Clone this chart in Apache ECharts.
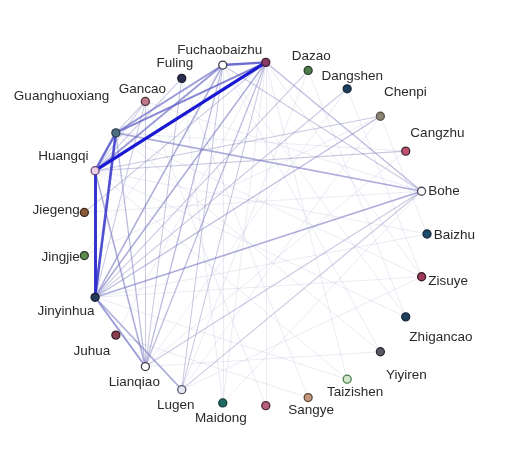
<!DOCTYPE html>
<html>
<head>
<meta charset="utf-8">
<script src="https://cdn.jsdelivr.net/npm/echarts@6/dist/echarts.min.js"></script>
<style>
  html, body { margin: 0; padding: 0; background: #fff; }
  #main { width: 507px; height: 455px; }
</style>
</head>
<body>
<div id="main"></div>
<script>
// herbs, in the order they sit round the circle (counter-clockwise from 3 o'clock)
var herbs = ['Baizhu','Bohe','Cangzhu','Chenpi','Dangshen','Dazao','Fangfeng','Fuchaobaizhu',
        'Fuling','Gancao','Guanghuoxiang','Huangqi','Jiegeng','Jingjie','Jinyinhua','Juhua',
        'Lianqiao','Lugen','Maidong','Niubangzi','Sangye','Taizishen','Yiyiren','Zhigancao','Zisuye'];

// co-occurrence links
var linkSource = ['Fangfeng','Huangqi','Guanghuoxiang','Guanghuoxiang','Fangfeng','Guanghuoxiang','Guanghuoxiang',
        'Huangqi','Jinyinhua','Jinyinhua','Guanghuoxiang','Jinyinhua','Jinyinhua','Jinyinhua','Lianqiao',
        'Lianqiao','Lianqiao','Lianqiao','Jinyinhua','Fangfeng','Fuchaobaizhu','Huangqi','Huangqi',
        'Lianqiao','Lugen','Jinyinhua','Jinyinhua','Lugen','Lugen','Lianqiao','Lianqiao','Huangqi',
        'Guanghuoxiang','Huangqi','Jinyinhua','Jiegeng','Jingjie',
        'Fangfeng','Fangfeng','Fuchaobaizhu','Huangqi','Guanghuoxiang','Huangqi','Jinyinhua','Jinyinhua',
        'Dangshen','Gancao','Juhua','Chenpi','Bohe','Dazao','Fuling','Cangzhu','Fangfeng','Fuchaobaizhu',
        'Guanghuoxiang','Huangqi','Jiegeng','Jingjie','Juhua','Dazao','Dangshen','Fuling','Gancao','Chenpi',
        'Lugen','Lianqiao','Jinyinhua','Fangfeng','Guanghuoxiang','Fuchaobaizhu'];
var linkTarget = ['Huangqi','Jinyinhua','Jinyinhua','Huangqi','Fuchaobaizhu','Fangfeng','Fuchaobaizhu',
        'Fuchaobaizhu','Lianqiao','Lugen','Bohe','Bohe','Fuchaobaizhu','Fangfeng','Huangqi',
        'Guanghuoxiang','Fuchaobaizhu','Fangfeng','Chenpi','Bohe','Bohe','Chenpi','Cangzhu',
        'Bohe','Bohe','Dazao','Dangshen','Fangfeng','Fuchaobaizhu','Gancao','Fuling','Gancao',
        'Gancao','Fuling','Gancao','Fangfeng','Fuchaobaizhu',
        'Zisuye','Taizishen','Yiyiren','Zhigancao','Zisuye','Baizhu','Zisuye','Baizhu',
        'Lianqiao','Niubangzi','Sangye','Lugen','Maidong','Lugen','Maidong','Lianqiao','Niubangzi','Maidong',
        'Yiyiren','Taizishen','Bohe','Chenpi','Fangfeng','Zhigancao','Zisuye','Sangye','Bohe','Baizhu',
        'Zisuye','Yiyiren','Taizishen','Maidong','Cangzhu','Zhigancao'];
var linkWeight = [10,9,8,7,7,6,5,
        5,5,4,4,4,4,4,4,
        3,3,3,3,3,2,2,2,
        2,2,2,2,2,2,2,2,2,
        2,2,2,2,1,
        1,1,1,1,1,1,1,1,
        1,1,1,1,1,1,1,1,1,1,
        1,1,1,1,1,1,1,1,1,1,
        1,1,1,1,1,1];

// node look
var nodeStyle = {
    Baizhu: ['#1e4d6b', '#1a2a3a'], Bohe: ['#ffffff', '#4a4a5a'], Cangzhu: ['#c0506e', '#3a2a30'],
    Chenpi: ['#8a8275', '#5a5448'], Dangshen: ['#1c3f5e', '#1a2a3a'], Dazao: ['#4f7d4a', '#2a3a2a'],
    Fangfeng: ['#8b3a68', '#3a2030'], Fuchaobaizhu: ['#ffffff', '#3a3a4a'], Fuling: ['#2b2f4f', '#1a1a2a'],
    Gancao: ['#c07a88', '#4a3038'], Guanghuoxiang: ['#4d6f80', '#2a3a48'], Huangqi: ['#eed0e6', '#6a4a7a'],
    Jiegeng: ['#8a5a3a', '#3a2a20'], Jingjie: ['#5c8c4c', '#2a3a2a'], Jinyinhua: ['#263a5a', '#141c2c'],
    Juhua: ['#8c3c50', '#3a2028'], Lianqiao: ['#ffffff', '#3a3a4a'], Lugen: ['#e8e8f0', '#555a70'],
    Maidong: ['#1f6a62', '#123a36'], Niubangzi: ['#b8607a', '#4a2a34'], Sangye: ['#c4967a', '#5a4434'],
    Taizishen: ['#d0e6c8', '#4a7a4a'], Yiyiren: ['#5a5a66', '#2a2a34'], Zhigancao: ['#1c3f5e', '#1a2a3a'],
    Zisuye: ['#a03a5a', '#3a2028']
};
// label placement: [position, dx, dy]
var labelPlace = {
    Baizhu: ['right', -2, 1], Bohe: ['right', -2, 0], Cangzhu: ['right', -4, -18], Chenpi: ['right', -5, -24],
    Dangshen: ['top', 5, 3], Dazao: ['top', 3, 2], Fuchaobaizhu: ['top', -3, 1], Fuling: ['top', -7, 1],
    Gancao: ['top', -3, 3], Guanghuoxiang: ['left', 2, -37], Huangqi: ['left', 2, -14], Jiegeng: ['left', 4, -2],
    Jingjie: ['left', 4, 2], Jinyinhua: ['left', 8, 14], Juhua: ['bottom', -24, 1], Lianqiao: ['bottom', -11, 0],
    Lugen: ['bottom', -6, 0], Maidong: ['bottom', -2, 0], Sangye: ['bottom', 3, -3], Taizishen: ['bottom', 8, -3],
    Yiyiren: ['right', -3, 24], Zhigancao: ['right', -5, 20], Zisuye: ['right', -2, 5]
};

function edgeColor(w) {
    var t = Math.pow((w - 1) / 9, 1.5);
    var r = Math.round(140 - 115 * t), g = Math.round(140 - 115 * t), b = Math.round(190 + 20 * t);
    return 'rgb(' + r + ',' + g + ',' + b + ')';
}

var myChart = echarts.init(document.getElementById('main'));

var nodes = herbs.map(function (name, i) {
    var st = nodeStyle[name];
    var lp = labelPlace[name];
    return {
        name: name,
        value: [1, i],
        itemStyle: { color: st[0], borderColor: st[1], borderWidth: 1.3 },
        label: lp ? { show: true, position: lp[0], offset: [lp[1], lp[2]], distance: 4 } : { show: false }
    };
});

var links = [];
for (var i = linkWeight.length - 1; i >= 0; i--) {
    var w = linkWeight[i];
    links.push({
        source: linkSource[i],
        target: linkTarget[i],
        value: w,
        lineStyle: {
            color: edgeColor(w),
            width: w == 1 ? 0.8 : 0.5 + 0.27 * w,
            opacity: w == 1 ? 0.22 : Math.min(1, 0.3 + 0.075 * w)
        }
    });
}

option = {
    backgroundColor: '#fff',
    animation: false,
    polar: { center: [255, 234], radius: 172 },
    angleAxis: { type: 'value', min: 0, max: herbs.length, startAngle: 0, clockwise: false, show: false },
    radiusAxis: { type: 'value', min: 0, max: 1, show: false },
    series: [
        {
            type: 'graph',
            coordinateSystem: 'polar',
            symbol: 'circle',
            symbolSize: 8,
            data: nodes,
            links: links,
            label: {
                show: true,
                color: '#2a2a2a',
                fontSize: 13.5,
                fontFamily: 'Liberation Sans, Arial, sans-serif'
            },
            lineStyle: { curveness: 0 },
            emphasis: { disabled: true }
        }
    ]
};
myChart.setOption(option);
</script>
</body>
</html>
